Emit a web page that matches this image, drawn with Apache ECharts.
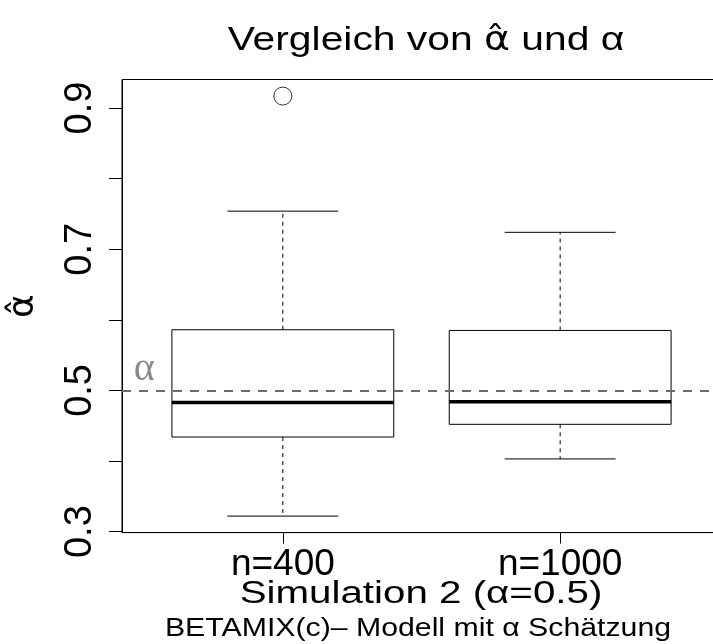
<!DOCTYPE html>
<html>
<head>
<meta charset="utf-8">
<script src="https://cdn.jsdelivr.net/npm/echarts@6/dist/echarts.min.js"></script>
<style>
  html, body { margin: 0; padding: 0; background: #fff; }
  #chart { width: 713px; height: 644px; }
</style>
</head>
<body>
<div id="chart"></div>
<script>
// Boxplot summary statistics per sample size
const groups = ['n=400', 'n=1000'];
const lowerWhisker = [0.322, 0.403];
const lowerQuartile = [0.434, 0.452];
const median = [0.483, 0.484];
const upperQuartile = [0.586, 0.585];
const upperWhisker = [0.754, 0.724];

// Points beyond the whiskers
const outlierGroup = ['n=400'];
const outlierValue = [0.917];

// True parameter value
const alphaTrue = 0.5;

// Axis ticks
const yTicks = [0.3, 0.4, 0.5, 0.6, 0.7, 0.8, 0.9];
const yTickLabels = [0.3, 0.5, 0.7, 0.9];

const FONT = 'Liberation Sans';
const HAT_FONT = 'DejaVu Sans';

const boxData = groups.map((g, i) => [i + 1, lowerWhisker[i], lowerQuartile[i], median[i], upperQuartile[i], upperWhisker[i]]);
const outlierData = outlierGroup.map((g, i) => [groups.indexOf(g) + 1, outlierValue[i]]);

const BOX_HALF = 0.4;
const CAP_HALF = 0.2;

function renderBox(params, api) {
  const x = api.value(0);
  const lo = api.value(1), q1 = api.value(2), med = api.value(3), q3 = api.value(4), hi = api.value(5);
  const pLoL = api.coord([x - CAP_HALF, lo]), pLoR = api.coord([x + CAP_HALF, lo]);
  const pHiL = api.coord([x - CAP_HALF, hi]), pHiR = api.coord([x + CAP_HALF, hi]);
  const pQ1L = api.coord([x - BOX_HALF, q1]);
  const pQ3R = api.coord([x + BOX_HALF, q3]);
  const pMedL = api.coord([x - BOX_HALF, med]), pMedR = api.coord([x + BOX_HALF, med]);
  const pQ1 = api.coord([x, q1]), pQ3 = api.coord([x, q3]);
  const cx = pQ1[0];
  const solid = { stroke: '#000', lineWidth: 1, fill: null };
  const dashed = { stroke: '#000', lineWidth: 1, lineDash: [4, 4], fill: null };
  return {
    type: 'group',
    children: [
      { type: 'line', shape: { x1: cx, y1: pQ3[1], x2: cx, y2: pHiL[1] }, style: dashed },
      { type: 'line', shape: { x1: cx, y1: pQ1[1], x2: cx, y2: pLoL[1] }, style: dashed },
      { type: 'line', shape: { x1: pHiL[0], y1: pHiL[1], x2: pHiR[0], y2: pHiR[1] }, style: solid },
      { type: 'line', shape: { x1: pLoL[0], y1: pLoL[1], x2: pLoR[0], y2: pLoR[1] }, style: solid },
      { type: 'rect', shape: { x: pQ1L[0], y: pQ3R[1], width: pQ3R[0] - pQ1L[0], height: pQ1L[1] - pQ3R[1] }, style: { stroke: '#000', lineWidth: 1, fill: 'rgba(0,0,0,0)' } },
      { type: 'line', shape: { x1: pMedL[0], y1: pMedL[1], x2: pMedR[0], y2: pMedR[1] }, style: { stroke: '#000', lineWidth: 3.5 } }
    ]
  };
}

// Wide-set headline texts (title, x-axis title, caption)
function wideText(text, x, y, size, scaleX, rich) {
  return {
    type: 'text', x: x, y: y, scaleX: scaleX, silent: true,
    style: {
      text: text, fill: '#000', font: size + 'px "' + FONT + '"',
      align: 'center', verticalAlign: 'middle', rich: rich
    }
  };
}

const chart = echarts.init(document.getElementById('chart'), null, { renderer: 'canvas' });
chart.setOption({
  animation: false,
  backgroundColor: '#fff',
  textStyle: { fontFamily: FONT, color: '#000' },
  graphic: [
    wideText('{t|Vergleich von }{h|α\u0302}{t| und α}', 426, 41, 34, 1.2, {
      t: { fontFamily: FONT, fontSize: 34, fill: '#000' },
      h: { fontFamily: HAT_FONT, fontSize: 33, fill: '#000' }
    }),
    wideText('Simulation 2 (α=0.5)', 421, 594, 31, 1.3),
    wideText('BETAMIX(c)\u2013 Modell mit α Schätzung', 418, 629, 25, 1.21)
  ],
  grid: {
    left: 122, right: -8, top: 79.5, bottom: 111.4,
    outerBoundsMode: 'none', containLabel: false,
    show: true, borderColor: '#000', borderWidth: 1, backgroundColor: 'transparent'
  },
  xAxis: {
    type: 'value', min: 0.42, max: 2.58,
    axisLine: { show: true, onZero: false, lineStyle: { color: '#000', width: 1 } },
    axisTick: { show: true, length: 11, customValues: [1, 2], lineStyle: { color: '#000' } },
    axisLabel: {
      customValues: [1, 2], margin: 14, fontSize: 37, color: '#000', fontFamily: FONT,
      formatter: v => groups[Math.round(v) - 1]
    },
    splitLine: { show: false }
  },
  yAxis: {
    type: 'value', min: 0.2986, max: 0.9405,
    name: 'α\u0302', nameLocation: 'middle', nameGap: 80, nameRotate: 90,
    nameTextStyle: { fontFamily: HAT_FONT, fontSize: 36, color: '#000' },
    axisLine: { show: true, onZero: false, lineStyle: { color: '#000', width: 1 } },
    axisTick: { show: true, length: 13, customValues: yTicks, lineStyle: { color: '#000' } },
    axisLabel: {
      customValues: yTickLabels, rotate: 90, margin: 22, fontSize: 38, color: '#000', fontFamily: FONT,
      formatter: v => v.toFixed(1)
    },
    splitLine: { show: false }
  },
  series: [
    {
      type: 'custom',
      renderItem: renderBox,
      data: boxData,
      encode: { x: 0, y: [1, 2, 3, 4, 5] },
      z: 3,
      markLine: {
        silent: true, symbol: 'none', label: { show: false },
        lineStyle: { color: '#6b6b6b', width: 2, type: [9, 8] },
        data: [{ yAxis: alphaTrue }]
      }
    },
    {
      type: 'scatter',
      data: outlierData,
      symbol: 'circle', symbolSize: 18,
      itemStyle: { color: 'rgba(0,0,0,0)', borderColor: '#000', borderWidth: 1 },
      z: 4
    },
    {
      type: 'scatter',
      data: [[0.5, 0.53]],
      symbolSize: 0,
      label: {
        show: true, position: 'inside', formatter: 'α',
        fontFamily: 'Liberation Serif', fontSize: 40, color: '#6b6b6b'
      },
      z: 4
    }
  ]
});
</script>
</body>
</html>
